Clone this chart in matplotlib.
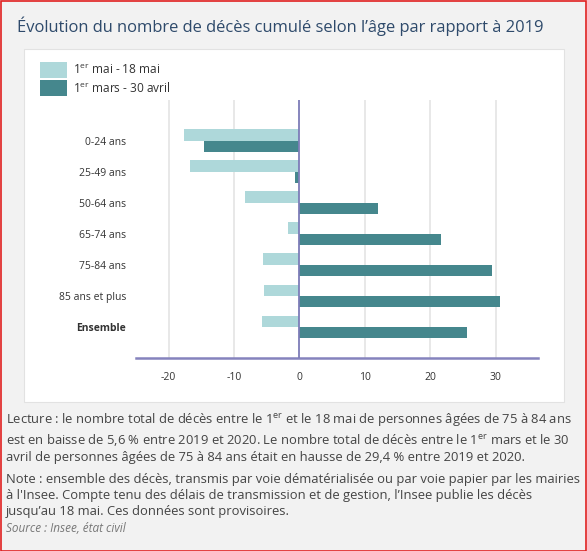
import numpy as np
import matplotlib
matplotlib.use('Agg')
import matplotlib.pyplot as plt
from matplotlib.patches import Rectangle

plt.rcParams['font.family'] = ['Open Sans', 'DejaVu Sans']
plt.rcParams['mathtext.fontset'] = 'custom'
plt.rcParams['mathtext.rm'] = 'Open Sans'
plt.rcParams['mathtext.it'] = 'Open Sans:italic'

# data (% change vs 2019)
categories = ['0-24 ans', '25-49 ans', '50-64 ans', '65-74 ans', '75-84 ans', '85 ans et plus', 'Ensemble']
mai = [-17.6, -16.7, -8.4, -1.8, -5.6, -5.4, -5.8]
mars_avril = [-14.6, -0.6, 12.0, 21.6, 29.4, 30.7, 25.7]
series_labels = [r'1$^{\mathrm{er}}$ mai - 18 mai', r'1$^{\mathrm{er}}$ mars - 30 avril']
xticks = [-20, -10, 0, 10, 20, 30]

W, H = 587, 551
fig = plt.figure(figsize=(W / 100, H / 100), dpi=100)
fig.patch.set_facecolor('#f2f2f2')

# red frame and white panel (behind the axes)
fig.patches.append(Rectangle((0.5 / W, 0.5 / H), 1 - 1.5 / W, 1 - 1.5 / H, transform=fig.transFigure,
                             fill=False, edgecolor='#e02020', lw=1.2, zorder=-2))
fig.patches.append(Rectangle((24 / W, 1 - 402 / H), 540 / W, 353 / H, transform=fig.transFigure,
                             facecolor='white', edgecolor='#e2e2e2', lw=0.8, zorder=-1))

fig.text(17 / W, 1 - 26 / H, 'Évolution du nombre de décès cumulé selon l’âge par rapport à 2019',
         fontsize=11.9, color='#2e4a6b', va='center', ha='left')

ax = fig.add_axes([136 / W, 1 - 358 / H, (538 - 136) / W, (358 - 100) / H])
ax.set_facecolor('none')

y = np.arange(len(categories))
h = 0.37
light = '#aed8da'
dark = '#45878d'
ax.barh(y - h / 2, mai, height=h, color=light, label=series_labels[0], zorder=2)
ax.barh(y + h / 2, mars_avril, height=h, color=dark, label=series_labels[1], zorder=2)

ax.set_xlim(-25, 36.5)
ax.set_ylim(7.0, -1.32)
ax.set_xticks(xticks)
ax.set_xticklabels([str(t) for t in xticks])
ax.set_yticks(y)
ax.set_yticklabels(categories)
ax.get_yticklabels()[-1].set_fontweight('bold')
ax.tick_params(axis='both', length=0, labelsize=7.5, labelcolor='#333333')
ax.tick_params(axis='x', pad=10)
ax.tick_params(axis='y', pad=7)

for t in xticks:
    if t != 0:
        ax.axvline(t, color='#e6e6e6', lw=1.3, zorder=1)
ax.axvline(0, color='#7d7cb8', lw=1.3, zorder=3)

for s in ['top', 'right', 'left']:
    ax.spines[s].set_visible(False)
ax.spines['bottom'].set_color('#8583bd')
ax.spines['bottom'].set_linewidth(1.8)

fig.legend(loc='upper left', bbox_to_anchor=(40 / W, 1 - 62 / H), frameon=False, fontsize=8.6,
           handlelength=2.25, handleheight=1.68, labelspacing=0.2, handletextpad=0.55,
           borderpad=0, borderaxespad=0, labelcolor='#333333')

# notes
txt_color = '#444444'
lines = [
    (420, r'Lecture : le nombre total de décès entre le 1$^{\mathrm{er}}$ et le 18 mai de personnes âgées de 75 à 84 ans'),
    (440, r'est en baisse de 5,6 % entre 2019 et 2020. Le nombre total de décès entre le 1$^{\mathrm{er}}$ mars et le 30'),
    (458, 'avril de personnes âgées de 75 à 84 ans était en hausse de 29,4 % entre 2019 et 2020.'),
    (479, 'Note : ensemble des décès, transmis par voie dématérialisée ou par voie papier par les mairies'),
    (496, 'à l\'Insee. Compte tenu des délais de transmission et de gestion, l’Insee publie les décès'),
    (512, 'jusqu’au 18 mai. Ces données sont provisoires.'),
]
for ypx, s in lines:
    fig.text(6 / W, 1 - ypx / H, s, fontsize=9.4, color=txt_color, va='center', ha='left')
fig.text(6 / W, 1 - 529 / H, 'Source : Insee, état civil', fontsize=8.5, color='#777777',
         style='italic', va='center', ha='left')

fig.savefig('out.png', dpi=100, facecolor=fig.get_facecolor())
